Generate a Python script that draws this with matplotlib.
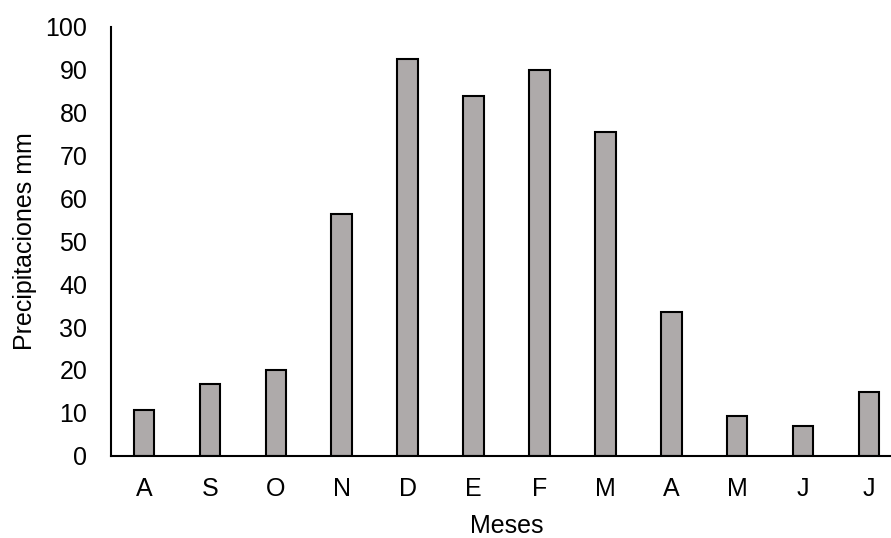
import numpy as np
import matplotlib.pyplot as plt

plt.rcParams['font.family'] = ['Liberation Sans', 'DejaVu Sans']

# monthly precipitation, hydrological year Aug-Jul
meses = ['A', 'S', 'O', 'N', 'D', 'E', 'F', 'M', 'A', 'M', 'J', 'J']
precip = [10.7, 16.8, 20.1, 56.4, 92.5, 83.8, 89.9, 75.5, 33.5, 9.3, 7.0, 14.9]

fig = plt.figure(figsize=(8.91, 5.38), dpi=100)
ax = fig.add_axes([111/891, 82.3/538, 791/891, 428.7/538])

x = np.arange(len(meses))
ax.bar(x, precip, width=0.31, color='#AEAAAA', edgecolor='black', linewidth=1.5)

ax.set_xlim(-0.5, len(meses) - 0.5)
ax.set_ylim(0, 100)
ax.set_yticks(range(0, 101, 10))
ax.set_xticks(x)
ax.set_xticklabels(meses)

for s in ['top', 'right']:
    ax.spines[s].set_visible(False)
ax.spines['left'].set_linewidth(1.5)
ax.spines['bottom'].set_linewidth(1.5)

ax.tick_params(axis='both', length=0, labelsize=18)
ax.tick_params(axis='y', pad=17)
ax.tick_params(axis='x', pad=15)

ax.set_xlabel('Meses', fontsize=18, labelpad=9.5)
ax.set_ylabel('Precipitaciones mm', fontsize=18, labelpad=6)

plt.savefig('out.png', dpi=100)
